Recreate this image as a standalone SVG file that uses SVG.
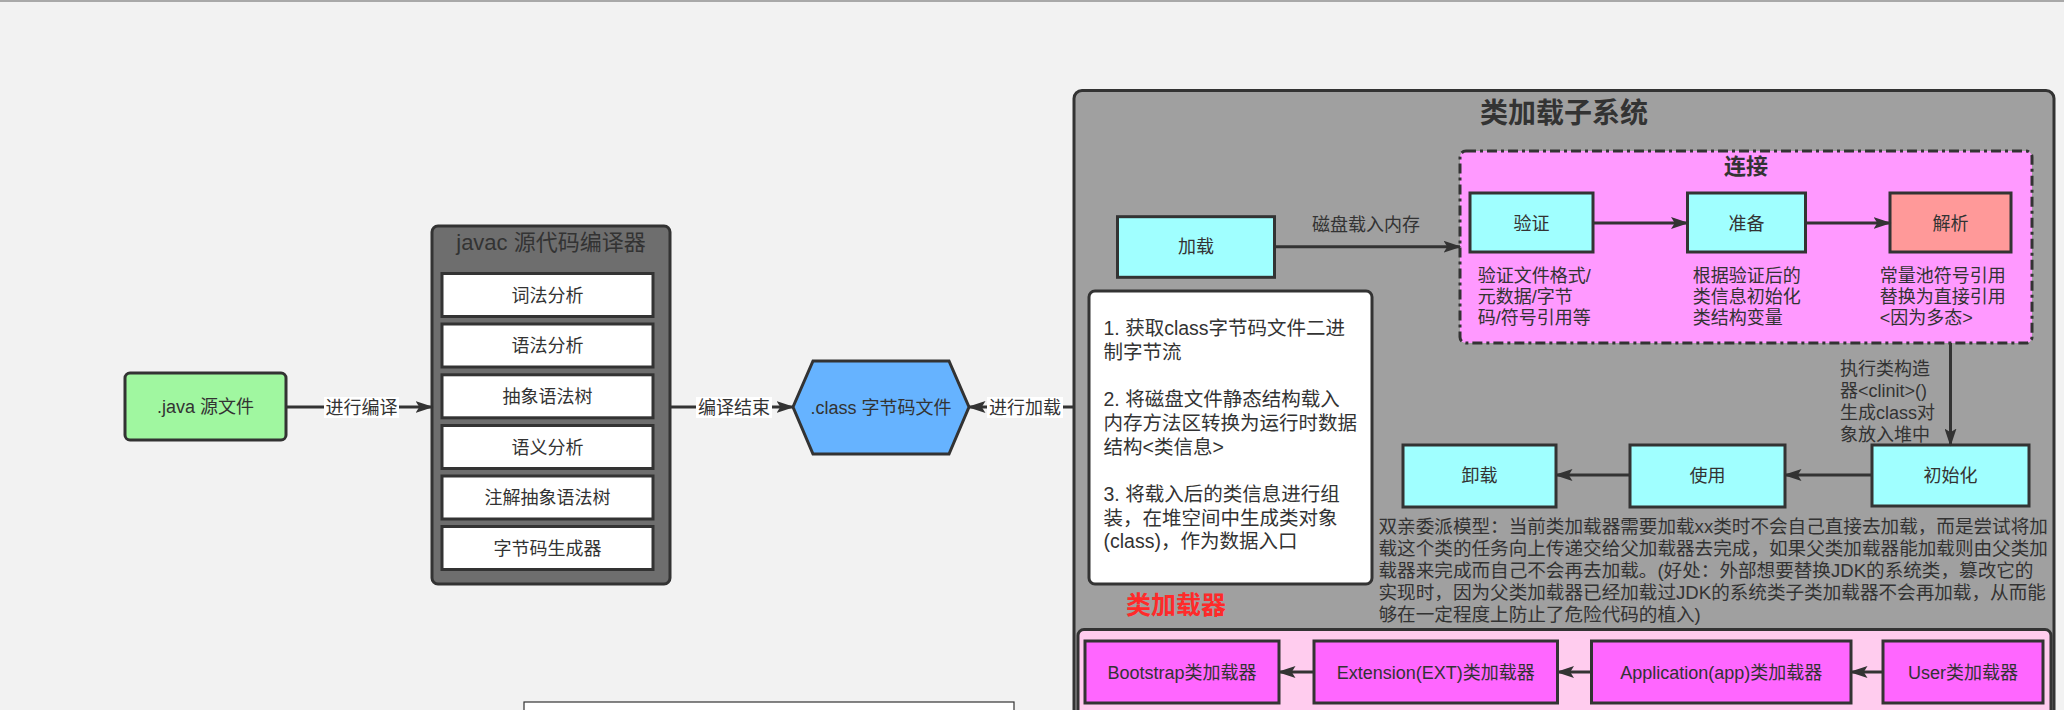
<svg xmlns="http://www.w3.org/2000/svg" width="2064" height="710" viewBox="0 0 2064 710">
<defs>
<style>
.t{font-family:'Liberation Sans','Noto Sans CJK SC',sans-serif;fill:#333;font-size:18px}
.c{text-anchor:middle}
.n{stroke:#333;stroke-width:3}
.cy{fill:#a0ffff}
.ld{fill:#ff66ff}
.e{stroke:#333;stroke-width:3;fill:none;marker-end:url(#ah)}
.lb{fill:#fff}
</style>
<marker id="ah" viewBox="0 0 12 8" refX="11" refY="4" markerWidth="6" markerHeight="4" orient="auto" markerUnits="strokeWidth">
<path d="M0,0 L12,4 L0,8 L2.5,4 z" fill="#333"/>
</marker>
</defs>
<rect width="2064" height="710" fill="#f2f2f2"/>
<rect width="2064" height="2" fill="#a9a9a9"/>

<g id="java-source">
<rect class="n" x="125" y="373" width="161" height="67" rx="5" fill="#a0f7a0"/>
<text class="t c" x="205.5" y="413">.java 源文件</text>
</g>

<g id="javac">
<rect class="n" x="432" y="226" width="238" height="358" rx="6" fill="#6e6e6e"/>
<text class="t c" x="551" y="249.5" style="font-size:22px">javac 源代码编译器</text>
<rect class="n" x="442" y="273.5" width="211" height="43" fill="#fff"/>
<text class="t c" x="547.5" y="301.5">词法分析</text>
<rect class="n" x="442" y="324" width="211" height="43" fill="#fff"/>
<text class="t c" x="547.5" y="352">语法分析</text>
<rect class="n" x="442" y="374.8" width="211" height="43" fill="#fff"/>
<text class="t c" x="547.5" y="402.8">抽象语法树</text>
<rect class="n" x="442" y="425.5" width="211" height="43" fill="#fff"/>
<text class="t c" x="547.5" y="453.5">语义分析</text>
<rect class="n" x="442" y="476" width="211" height="43" fill="#fff"/>
<text class="t c" x="547.5" y="504">注解抽象语法树</text>
<rect class="n" x="442" y="526.5" width="211" height="43" fill="#fff"/>
<text class="t c" x="547.5" y="554.5">字节码生成器</text>
</g>

<g id="class-file">
<polygon class="n" points="793,407 813,361 949,361 969,407 949,454 813,454" fill="#66b3ff"/>
<text class="t c" x="881" y="413.5">.class 字节码文件</text>
</g>

<g id="bottom-note">
<rect x="524" y="702" width="490" height="30" fill="#fff" stroke="#333" stroke-width="1.2"/>
</g>

<g id="classloader-subsystem">
<rect class="n" x="1074" y="90.5" width="980" height="680" rx="8" fill="#a0a0a0"/>
<text class="t c" x="1564" y="123" style="font-size:28px;font-weight:bold">类加载子系统</text>
</g>

<g id="load">
<rect class="n cy" x="1117.5" y="216.7" width="157" height="60.6"/>
<text class="t c" x="1196" y="253">加载</text>
</g>

<g id="link">
<rect x="1460" y="151" width="572" height="192" rx="6" fill="#ff99ff" stroke="#333" stroke-width="3" stroke-dasharray="10 4 3 4"/>
<text class="t c" x="1746" y="174" style="font-size:22px;font-weight:bold">连接</text>
</g>

<g id="verify">
<rect class="n cy" x="1470" y="193" width="123" height="59"/>
<text class="t c" x="1531.5" y="229.5">验证</text>
<text class="t" x="1477.8" y="281.5">验证文件格式/</text>
<text class="t" x="1477.8" y="302.8">元数据/字节</text>
<text class="t" x="1477.8" y="324.1">码/符号引用等</text>
</g>

<g id="prepare">
<rect class="n cy" x="1687.5" y="193" width="118" height="59"/>
<text class="t c" x="1746.5" y="229.5">准备</text>
<text class="t" x="1692.7" y="281.5">根据验证后的</text>
<text class="t" x="1692.7" y="302.8">类信息初始化</text>
<text class="t" x="1692.7" y="324.1">类结构变量</text>
</g>

<g id="resolve">
<rect class="n" x="1890" y="193" width="121" height="59" fill="#ff9999"/>
<text class="t c" x="1950.5" y="229.5">解析</text>
<text class="t" x="1879.7" y="281.5">常量池符号引用</text>
<text class="t" x="1879.7" y="302.8">替换为直接引用</text>
<text class="t" x="1879.7" y="324.1">&lt;因为多态&gt;</text>
</g>

<g id="init">
<rect class="n cy" x="1872" y="445" width="157" height="61"/>
<text class="t c" x="1950.5" y="481.5">初始化</text>
</g>

<g id="use">
<rect class="n cy" x="1630" y="445" width="155" height="62"/>
<text class="t c" x="1707.5" y="481.5">使用</text>
</g>

<g id="unload">
<rect class="n cy" x="1403" y="445" width="153" height="62"/>
<text class="t c" x="1479.5" y="481.5">卸载</text>
</g>

<g id="load-steps">
<rect class="n" x="1089" y="291" width="283" height="293" rx="6" fill="#fff"/>
<g class="t" style="font-size:19.5px">
<text x="1103.5" y="335">1. 获取class字节码文件二进</text>
<text x="1103.5" y="358.7">制字节流</text>
<text x="1103.5" y="406">2. 将磁盘文件静态结构载入</text>
<text x="1103.5" y="429.8">内存方法区转换为运行时数据</text>
<text x="1103.5" y="453.5">结构&lt;类信息&gt;</text>
<text x="1103.5" y="500.9">3. 将载入后的类信息进行组</text>
<text x="1103.5" y="524.6">装，在堆空间中生成类对象</text>
<text x="1103.5" y="548.3">(class)，作为数据入口</text>
</g>
</g>

<g id="parent-delegation" class="t" style="font-size:18.6px">
<text x="1378.5" y="533">双亲委派模型：当前类加载器需要加载xx类时不会自己直接去加载，而是尝试将加</text>
<text x="1378.5" y="555.1">载这个类的任务向上传递交给父加载器去完成，如果父类加载器能加载则由父类加</text>
<text x="1378.5" y="577.2">载器来完成而自己不会再去加载。(好处：外部想要替换JDK的系统类，篡改它的</text>
<text x="1378.5" y="599.3">实现时，因为父类加载器已经加载过JDK的系统类子类加载器不会再加载，从而能</text>
<text x="1378.5" y="621.4">够在一定程度上防止了危险代码的植入)</text>
</g>

<g id="classloader-label">
<text class="t c" x="1176" y="614" style="font-size:25px;font-weight:bold;fill:#ff2a2a">类加载器</text>
</g>

<g id="classloaders">
<rect class="n" x="1078" y="629.5" width="973" height="130" rx="6" fill="#ffccee"/>
</g>
<g id="bootstrap">
<rect class="n ld" x="1085" y="641" width="194" height="62"/>
<text class="t c" x="1182" y="678.5">Bootstrap类加载器</text>
</g>
<g id="extension">
<rect class="n ld" x="1314" y="641" width="243.5" height="62"/>
<text class="t c" x="1435.7" y="678.5">Extension(EXT)类加载器</text>
</g>
<g id="application">
<rect class="n ld" x="1591.5" y="641" width="259.5" height="62"/>
<text class="t c" x="1721.2" y="678.5">Application(app)类加载器</text>
</g>
<g id="user">
<rect class="n ld" x="1883" y="641" width="160" height="62"/>
<text class="t c" x="1963" y="678.5">User类加载器</text>
</g>

<g id="connectors">
<line class="e" x1="286" y1="407" x2="432" y2="407"/>
<rect class="lb" x="324" y="397" width="75" height="21"/>
<text class="t c" x="361.5" y="413.5">进行编译</text>

<line class="e" x1="670" y1="407" x2="793" y2="407"/>
<rect class="lb" x="696" y="397" width="76" height="21"/>
<text class="t c" x="734" y="413.5">编译结束</text>

<line class="e" x1="1074" y1="407" x2="969" y2="407"/>
<rect class="lb" x="987" y="397" width="76" height="21"/>
<text class="t c" x="1025" y="413.5">进行加载</text>

<line class="e" x1="1274.5" y1="246.7" x2="1460" y2="246.7"/>
<text class="t c" x="1366" y="230.5">磁盘载入内存</text>

<line class="e" x1="1593" y1="223" x2="1687.5" y2="223"/>
<line class="e" x1="1805.5" y1="223" x2="1890" y2="223"/>

<line class="e" x1="1950.5" y1="343" x2="1950.5" y2="445"/>
<text class="t" x="1840" y="374.5">执行类构造</text>
<text class="t" x="1840" y="396.5">器&lt;clinit&gt;()</text>
<text class="t" x="1840" y="418.5">生成class对</text>
<text class="t" x="1840" y="440.5">象放入堆中</text>

<line class="e" x1="1872" y1="475" x2="1785" y2="475"/>
<line class="e" x1="1630" y1="475" x2="1556" y2="475"/>

<line class="e" x1="1314" y1="672" x2="1279" y2="672"/>
<line class="e" x1="1591.5" y1="672" x2="1557.5" y2="672"/>
<line class="e" x1="1883" y1="672" x2="1851" y2="672"/>
</g>
</svg>
